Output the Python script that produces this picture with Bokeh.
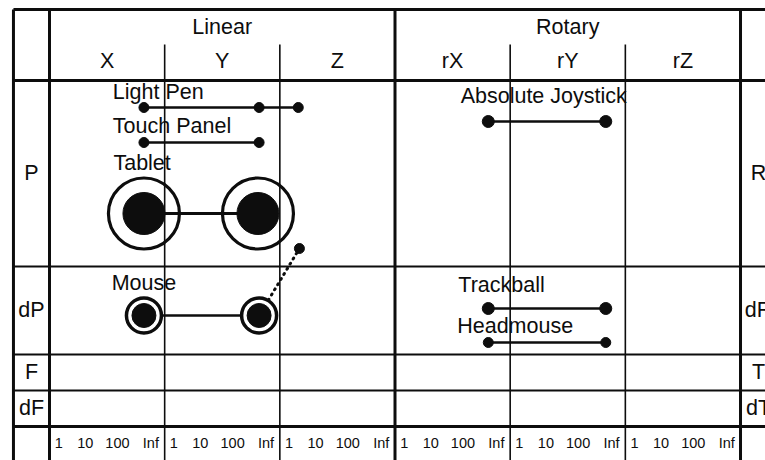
from bokeh.plotting import figure
from bokeh.models import Range1d
from bokeh.core.properties import value
from bokeh.embed import file_html
from bokeh.resources import INLINE

# ---------------- design-space structure ----------------
dims = ["X", "Y", "Z", "rX", "rY", "rZ"]
groups = ["Linear", "Rotary"]
row_labels = ["P", "dP", "F", "dF"]
right_labels = ["R", "dR", "T", "dT"]
res_labels = ["1", "10", "100", "Inf"]
res_offsets = [0.08, 0.31, 0.59, 0.88]          # place of each resolution inside a column

# vertical table units (0 = top border)
header_bottom = 71
row_edges = [71, 257, 345, 381, 417]
table_bottom = 451

# ---------------- devices ----------------
light_pen_dims = ["X", "Y", "Z"]
light_pen_res = [0.82, 0.82, 0.16]
light_pen_row = 98

touch_panel_dims = ["X", "Y"]
touch_panel_res = [0.82, 0.82]
touch_panel_row = 133

tablet_dims = ["X", "Y"]
tablet_res = [0.82, 0.81]
tablet_row = 204

mouse_dims = ["X", "Y"]
mouse_res = [0.82, 0.82]
mouse_row = 306
mouse_button_dim = "Z"
mouse_button_res = 0.17
mouse_button_row = 239

joystick_dims = ["rX", "rY"]
joystick_res = [0.81, 0.83]
joystick_row = 112

trackball_dims = ["rX", "rY"]
trackball_res = [0.81, 0.83]
trackball_row = 299

headmouse_dims = ["rX", "rY"]
headmouse_res = [0.81, 0.83]
headmouse_row = 333

# name, anchor column position, baseline
device_names = ["Light Pen", "Touch Panel", "Tablet", "Mouse",
                "Absolute Joystick", "Trackball", "Headmouse"]
device_label_x = [0.55, 0.55, 0.555, 0.54, 3.57, 3.55, 3.54]
device_label_y = [82, 116, 153, 273, 86, 275, 316]


def xpos(dim_list, res_list):
    return [dims.index(d) + r for d, r in zip(dim_list, res_list)]


FONT = value("Liberation Sans")
INK = "#0d0d0d"
LEFT = -0.313
RIGHT = 6.3
BIG = "21.5px"

p = figure(width=765, height=460,
           x_range=Range1d(-0.4255, 6.217), y_range=Range1d(451, -9),
           x_axis_location=None, y_axis_location=None,
           toolbar_location=None, output_backend="svg", min_border=0,
           outline_line_color=None,
           background_fill_color="white", border_fill_color="white")
p.xgrid.visible = False
p.ygrid.visible = False

# ---------------- table rules ----------------
thick_x = [LEFT, 0, 3, 6]
p.segment(x0=thick_x, y0=[0] * 4, x1=thick_x, y1=[table_bottom] * 4,
          line_color=INK, line_width=3)
thin_x = [1, 2, 4, 5]
p.segment(x0=thin_x, y0=[35] * 4, x1=thin_x, y1=[table_bottom] * 4,
          line_color=INK, line_width=1.6)
thick_y = [0, header_bottom, row_edges[-1]]
p.segment(x0=[LEFT] * 3, y0=thick_y, x1=[RIGHT] * 3, y1=thick_y,
          line_color=INK, line_width=3)
mid_y = row_edges[1:-1]
p.segment(x0=[LEFT] * len(mid_y), y0=mid_y, x1=[RIGHT] * len(mid_y), y1=mid_y,
          line_color=INK, line_width=2)

# ---------------- headers ----------------
p.text(x=[1.5, 4.5], y=[17, 17], text=groups, text_font=FONT,
       text_font_size=BIG, text_align="center", text_baseline="alphabetic",
       text_color=INK)
p.text(x=[i + 0.5 for i in range(len(dims))], y=[51] * len(dims), text=dims,
       text_font=FONT, text_font_size=BIG, text_align="center",
       text_baseline="alphabetic", text_color=INK)

row_centers = [(a + b) / 2 for a, b in zip(row_edges[:-1], row_edges[1:])]
p.text(x=[LEFT / 2] * 4, y=[c - 1 for c in row_centers], text=row_labels,
       text_font=FONT, text_font_size=BIG, text_align="center",
       text_baseline="alphabetic", text_color=INK)
p.text(x=[6.157] * 4, y=[c - 1 for c in row_centers], text=right_labels,
       text_font=FONT, text_font_size=BIG, text_align="center",
       text_baseline="alphabetic", text_color=INK)

tick_x, tick_t = [], []
for c in range(len(dims)):
    for off, lab in zip(res_offsets, res_labels):
        tick_x.append(c + off)
        tick_t.append(lab)
p.text(x=tick_x, y=[433] * len(tick_x), text=tick_t, text_font=FONT,
       text_font_size="14.5px", text_align="center", text_baseline="alphabetic",
       text_color=INK)

# ---------------- devices ----------------
# Light pen
lx = xpos(light_pen_dims, light_pen_res)
p.line(lx, [light_pen_row] * len(lx), line_color=INK, line_width=2.5)
p.scatter(lx, [light_pen_row] * len(lx), size=10, color=INK)

# Touch panel
tx = xpos(touch_panel_dims, touch_panel_res)
p.line(tx, [touch_panel_row] * len(tx), line_color=INK, line_width=2.5)
p.scatter(tx, [touch_panel_row] * len(tx), size=10, color=INK)

# Tablet
bx = xpos(tablet_dims, tablet_res)
p.line(bx, [tablet_row] * len(bx), line_color=INK, line_width=3)
p.scatter(bx, [tablet_row] * len(bx), size=71, fill_color=None,
          line_color=INK, line_width=3.2)
p.scatter(bx, [tablet_row] * len(bx), size=42, color=INK)

# Mouse (with dotted link to its button)
mx = xpos(mouse_dims, mouse_res)
bxz = dims.index(mouse_button_dim) + mouse_button_res
p.line([mx[-1], bxz], [mouse_row, mouse_button_row], line_color=INK,
       line_width=3, line_dash="1 5", line_cap="round")
p.scatter([bxz], [mouse_button_row], size=10, color=INK)
p.line(mx, [mouse_row] * len(mx), line_color=INK, line_width=2.5)
p.scatter(mx, [mouse_row] * len(mx), size=35, fill_color="white",
          line_color=INK, line_width=3.5)
p.scatter(mx, [mouse_row] * len(mx), size=24, color=INK)

# Rotary devices
for dl, rl, row, sz in [(joystick_dims, joystick_res, joystick_row, 12),
                        (trackball_dims, trackball_res, trackball_row, 12),
                        (headmouse_dims, headmouse_res, headmouse_row, 10)]:
    rx = xpos(dl, rl)
    p.line(rx, [row] * len(rx), line_color=INK, line_width=2.5)
    p.scatter(rx, [row] * len(rx), size=sz, color=INK)

# Device names
p.text(x=device_label_x, y=device_label_y, text=device_names, text_font=FONT,
       text_font_size=BIG, text_align="left", text_baseline="alphabetic",
       text_color=INK)

open("out.html", "w").write(file_html(p, INLINE))
